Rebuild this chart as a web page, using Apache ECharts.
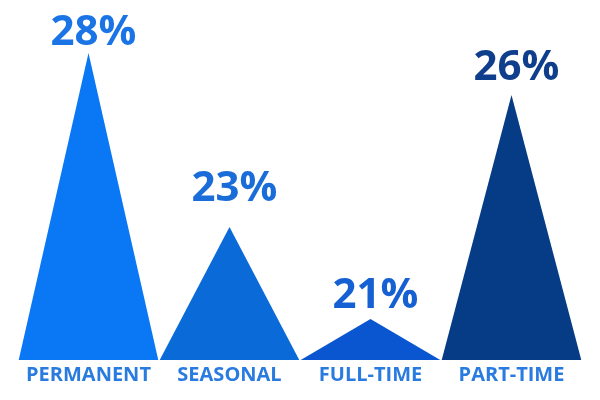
<!DOCTYPE html>
<html>
<head>
<meta charset="utf-8">
<script src="https://cdn.jsdelivr.net/npm/echarts@6/dist/echarts.min.js"></script>
<style>html,body{margin:0;padding:0;background:#fff}#c{width:600px;height:400px}</style>
</head>
<body>
<div id="c"></div>
<script>
// Data
var categories = ['PERMANENT', 'SEASONAL', 'FULL-TIME', 'PART-TIME'];
var percentages = [28, 23, 21, 26];               // labelled values
var peakHeights = [307, 133, 41, 265];            // drawn peak heights (relative units, as drawn in the picture)
var fillColors = ['#0a78f5', '#0a6ad8', '#0a55d0', '#053c85'];
var labelColors = ['#1a74e6', '#1a6cd8', '#1560d2', '#0f3f8c'];
var labelGaps = [-1, 17, 2, 6];

var chart = echarts.init(document.getElementById('c'));
var data = peakHeights.map(function (h, i) {
  return {
    value: h,
    itemStyle: { color: fillColors[i] },
    label: { color: labelColors[i], distance: labelGaps[i] }
  };
});
chart.setOption({
  animation: false,
  grid: { left: 18, right: 18, top: 40, bottom: 40 },
  xAxis: {
    type: 'category',
    data: categories,
    axisLine: { show: false },
    axisTick: { show: false },
    axisLabel: {
      interval: 0,
      hideOverlap: false,
      color: '#2a7be0',
      fontFamily: 'Open Sans',
      fontWeight: 'bold',
      fontSize: 20,
      margin: 5
    }
  },
  yAxis: { type: 'value', min: 0, max: 320, show: false, splitLine: { show: false } },
  series: [{
    type: 'pictorialBar',
    symbol: 'triangle',
    symbolSize: ['99%', '100%'],
    barCategoryGap: '0%',
    data: data,
    label: {
      show: true,
      position: 'top',
      offset: [5, 0],
      fontFamily: 'Open Sans',
      fontWeight: 'bold',
      fontSize: 42,
      formatter: function (p) { return percentages[p.dataIndex] + '%'; }
    }
  }]
});
</script>
</body>
</html>
